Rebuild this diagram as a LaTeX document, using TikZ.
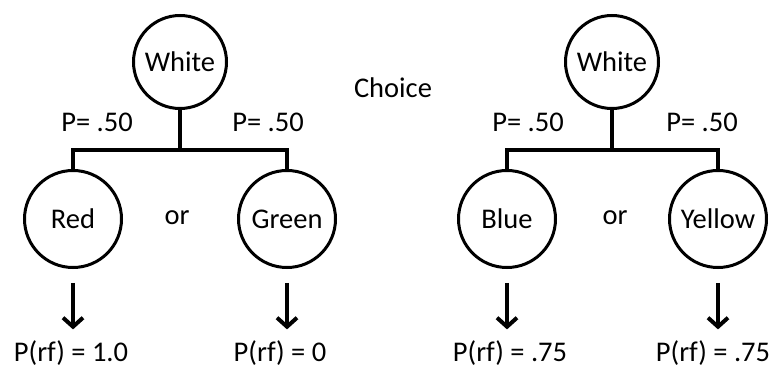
\documentclass[tikz,border=0pt]{standalone}
\usepackage{fontspec}
\setmainfont{Carlito}
\usepackage{tikz}
\usetikzlibrary{arrows.meta}

\tikzset{
    ball/.style={draw, circle, line width=3pt, minimum size=97pt, inner sep=0pt},
    branch/.style={line width=3.5pt},
    downarrow/.style={line width=4pt, -{Straight Barb[length=9pt,width=20pt,line width=4pt]},
        shorten <=14pt, shorten >=11pt},
}

\begin{document}
\begin{tikzpicture}[x=1pt, y=1pt, font=\fontsize{28.5}{34}\selectfont]
    \useasboundingbox (0,0) rectangle (774,375);
    % left tree
    \node[ball, minimum size=93pt] (white1) at (180,313) {White};
    \node[ball] (red) at (73,156) {Red};
    \node[ball] (green) at (287,156) {Green};
    \node (or1) at (177,157) {or};
    \node (p1) at (97,253) {P= .50};
    \node (p2) at (268,253) {P= .50};
    \node[inner sep=0pt] (rf1) at (71,22) {P(rf) = 1.0};
    \node[inner sep=0pt] (rf2) at (280,22) {P(rf) = 0};
    \draw[branch] (white1.south) -- ++(0,-40) coordinate (j1);
    \draw[branch] (red.north) |- (j1) -| (green.north);
    \draw[downarrow] (red.south) -- (red.south |- rf1.north);
    \draw[downarrow] (green.south) -- (green.south |- rf2.north);
    % middle
    \node (choice) at (393,287) {Choice};
    % right tree
    \node[ball, minimum size=93pt] (white2) at (612,313) {White};
    \node[ball] (blue) at (507,156) {Blue};
    \node[ball] (yellow) at (718,156) {Yellow};
    \node (or2) at (615,157) {or};
    \node (p3) at (528,253) {P= .50};
    \node (p4) at (702,253) {P= .50};
    \node[inner sep=0pt] (rf3) at (510,22) {P(rf) = .75};
    \node[inner sep=0pt] (rf4) at (713,22) {P(rf) = .75};
    \draw[branch] (white2.south) -- ++(0,-40) coordinate (j2);
    \draw[branch] (blue.north) |- (j2) -| (yellow.north);
    \draw[downarrow] (blue.south) -- (blue.south |- rf3.north);
    \draw[downarrow] (yellow.south) -- (yellow.south |- rf4.north);
\end{tikzpicture}
\end{document}
